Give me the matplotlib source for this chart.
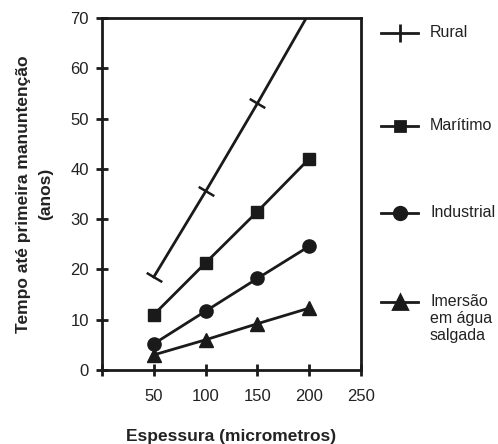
import numpy as np
import matplotlib
matplotlib.use('Agg')
import matplotlib.pyplot as plt
from matplotlib.lines import Line2D

plt.rcParams['font.family'] = ['Liberation Sans', 'DejaVu Sans']

# data
espessura = [50, 100, 150, 200]
rural = [18.5, 35.5, 53.0, 71.0]
maritimo = [11.0, 21.3, 31.5, 42.0]
industrial = [5.2, 11.7, 18.2, 24.6]
imersao = [3.0, 6.0, 9.2, 12.3]
labels = ['Rural', 'Marítimo', 'Industrial', 'Imersão\nem água\nsalgada']

fig = plt.figure(figsize=(4.98, 4.44), dpi=100)
ax = fig.add_axes([0.2048, 0.1667, 0.52, 0.7928])

lw = 2.0
# rural: short cross marks perpendicular to the line
ang = np.degrees(np.arctan2((rural[-1] - rural[0]) * 5.03, (espessura[-1] - espessura[0]) * 1.04))
ax.plot(espessura, rural, color='#1a1a1a', lw=lw, marker=(2, 0, ang), ms=13, mew=1.8)
ax.plot(espessura, maritimo, color='#1a1a1a', lw=lw, marker='s', ms=8.5)
ax.plot(espessura, industrial, color='#1a1a1a', lw=lw, marker='o', ms=9.5)
ax.plot(espessura, imersao, color='#1a1a1a', lw=lw, marker='^', ms=10.5)

ax.set_xlim(0, 250)
ax.set_ylim(0, 70)
ax.set_xticks([0, 50, 100, 150, 200, 250])
ax.set_xticklabels(['', '50', '100', '150', '200', '250'])
ax.set_yticks(range(0, 71, 10))
for s in ax.spines.values():
    s.set_linewidth(2.0)
    s.set_color('#1a1a1a')
ax.tick_params(axis='both', direction='inout', length=9, width=2.0, color='#1a1a1a',
               labelsize=12, labelcolor='#222222')
ax.tick_params(axis='x', pad=9)
ax.tick_params(axis='y', pad=5)

ax.set_ylabel('Tempo até primeira manuntenção\n(anos)', fontsize=12.5, fontweight='bold',
              color='#222222', linespacing=1.6, labelpad=12)
ax.set_xlabel('Espessura (micrometros)', fontsize=12.5, fontweight='bold',
              color='#222222', labelpad=18)

# legend drawn by hand on the right
markers = ['|', 's', 'o', '^']
sizes = [13, 7.5, 9, 10.5]
ys = [33, 126, 213, 302]
for m, sz, yp, lab in zip(markers, sizes, ys, labels):
    yf = 1 - yp / 444
    fig.add_artist(Line2D([381 / 498, 418 / 498], [yf, yf], transform=fig.transFigure,
                          color='#1a1a1a', lw=lw))
    fig.add_artist(Line2D([399.5 / 498], [yf], transform=fig.transFigure, color='#1a1a1a',
                          marker=m, ms=sz, mew=2.0))
    fig.text(430 / 498, yf + 0.018, lab, fontsize=11.5, color='#222222', va='top', ha='left',
             linespacing=1.15)

plt.savefig('out.png', dpi=100)
